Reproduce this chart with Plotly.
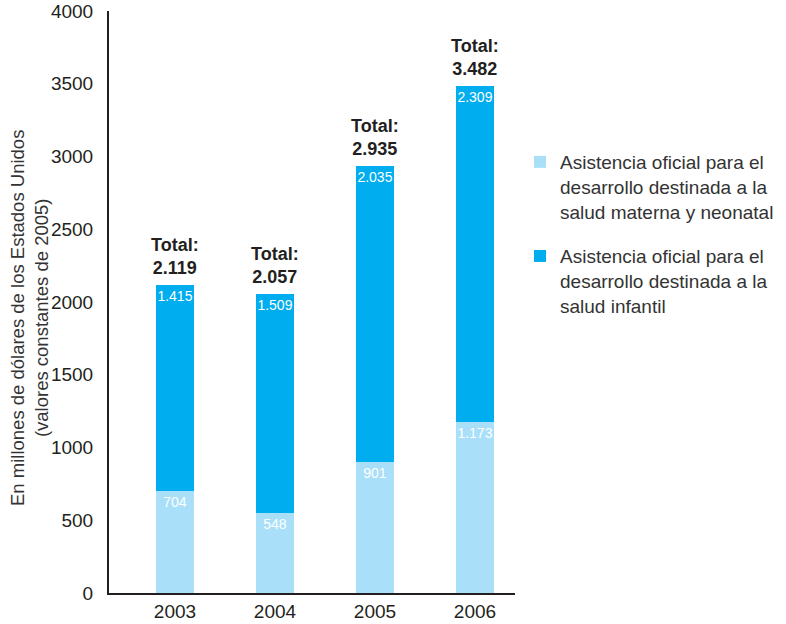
import plotly.graph_objects as go

years = ["2003", "2004", "2005", "2006"]
materna = [704, 548, 901, 1173]
infantil = [1415, 1509, 2035, 2309]
totales = [2119, 2057, 2935, 3482]
serie_materna = "Asistencia oficial para el<br>desarrollo destinada a la<br>salud materna y neonatal"
serie_infantil = "Asistencia oficial para el<br>desarrollo destinada a la<br>salud infantil"
y_title = "En millones de dólares de los Estados Unidos<br>(valores constantes de 2005)"

LIGHT = "#a9dff8"
DARK = "#00adee"
TXT = "#231f20"
FONT = "Liberation Sans, Arial, sans-serif"

L, R, T, B = 109, 271, 11, 31
W, H = 786, 624
PW, PH = W - L - R, H - T - B


def fmt(v):
    return f"{v:,}".replace(",", ".")


fig = go.Figure()
for vals, name, col, grp in [(materna, serie_materna, LIGHT, "a"), (infantil, serie_infantil, DARK, "b")]:
    fig.add_trace(go.Bar(
        x=years, y=vals, name=name, marker=dict(color=col, line=dict(width=0)),
        width=0.38, text=[fmt(v) for v in vals], textposition="inside", textangle=0,
        insidetextanchor="end", textfont=dict(color="white", size=14, family=FONT),
        legendgroup=grp, constraintext="none",
    ))

for i, t in enumerate(totales):
    fig.add_annotation(
        x=i, y=t, xref="x", yref="y", text=f"<b>Total:<br>{fmt(t)}</b>", showarrow=False,
        yanchor="bottom", xanchor="center", yshift=5,
        font=dict(size=18, color=TXT, family=FONT), align="center",
    )

fig.add_annotation(
    x=(29 - L) / PW, y=(H - B - 318) / PH, xref="paper", yref="paper",
    text=y_title, textangle=-90, showarrow=False, xanchor="center", yanchor="middle",
    font=dict(size=18.5, color="#333333", family=FONT), align="center",
)

fig.update_layout(
    width=W, height=H,
    barmode="stack",
    plot_bgcolor="white", paper_bgcolor="white",
    margin=dict(l=L, r=R, t=T, b=B, autoexpand=False),
    font=dict(family=FONT, color=TXT),
    legend=dict(
        x=(520 - L) / PW, xanchor="left", y=(H - B - 143) / PH, yanchor="top",
        traceorder="grouped", valign="top", tracegroupgap=17,
        font=dict(size=19, color="#333333", family=FONT),
        bgcolor="rgba(0,0,0,0)",
    ),
    xaxis=dict(
        type="category", range=[-0.66, 3.4], showline=True, linecolor=TXT, linewidth=2,
        ticks="", showgrid=False, tickfont=dict(size=19, color=TXT, family=FONT),
        zeroline=False, automargin=False,
    ),
    yaxis=dict(
        range=[0, 4000], dtick=500, tickformat="d", showline=True, linecolor=TXT,
        linewidth=2, ticks="", showgrid=False, zeroline=False, automargin=False,
        tickfont=dict(size=19, color=TXT, family=FONT), ticklabelstandoff=10,
    ),
)

fig.write_html("out.html", config={"displayModeBar": False},
               post_script="document.body.style.margin='0';")
